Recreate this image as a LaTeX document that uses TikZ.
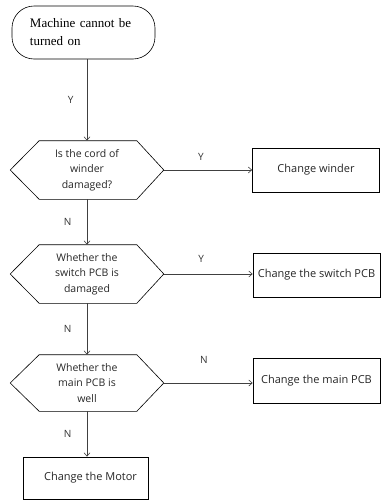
\documentclass[tikz,border=0pt]{standalone}
\usepackage{fontspec}
\setmainfont{Liberation Serif}
\setsansfont{Open Sans}
\usetikzlibrary{arrows.meta}
\begin{document}
\begin{tikzpicture}[x=1pt,y=-1pt,
    line width=0.6pt,
    flow/.style={draw=black!75,-{Straight Barb[length=3.5pt,width=6pt]}},
    lbl/.style={font=\sffamily\fontsize{10}{11}\selectfont,text=black!80},
    decision/.style={minimum width=153pt,inner sep=0pt,align=center,
        font=\sffamily\fontsize{10.5}{15.5}\selectfont,text=black!85},
    action/.style={draw,minimum width=127pt,inner sep=0pt,
        font=\sffamily\fontsize{11}{13}\selectfont,text=black!85}]
            \useasboundingbox (0,0) rectangle (382,501);

            \node[draw,rounded corners=22pt,minimum height=53pt,text width=107pt,
                inner xsep=18pt,align=left,font=\fontsize{13}{18}\selectfont]
                (start) at (83.5,32.5) {Machine cannot be\\turned on};

            \node[decision,minimum height=58pt] (cord) at (87,170) {Is the cord of\\winder\\damaged?};
            \node[decision,minimum height=58pt] (switch) at (87,274) {Whether the\\switch PCB is\\damaged};
            \node[decision,minimum height=56pt] (main) at (87,383) {Whether the\\main PCB is\\well};

            \foreach \d in {cord,switch,main} {
                \draw (\d.west) -- ([xshift=29pt]\d.north west) -- ([xshift=-27pt]\d.north east)
                    -- (\d.east) -- ([xshift=-27pt]\d.south east) -- ([xshift=29pt]\d.south west) -- cycle;
            }

            \node[action,minimum height=44pt] (winder) at (316,170) {Change winder};
            \node[action,minimum height=44pt] (swpcb) at (316.5,275) {Change the switch PCB};
            \node[action,minimum height=45pt] (mainpcb) at (316.5,380.5) {Change the main PCB};
            \node[action,minimum width=125pt,minimum height=42pt] (motor) at (85.5,478) {\hspace{10pt}Change the Motor};

            \draw[flow] (cord.north |- start.south) -- (cord.north) node[midway,left=10pt,lbl] {Y};
            \draw[flow] (cord.south) -- (switch.north) node[midway,left=12pt,lbl] {N};
            \draw[flow] (switch.south) -- (main.north) node[midway,left=12pt,lbl] {N};
            \draw[flow] (main.south) -- (motor.north -| main.south) node[midway,left=12pt,lbl] {N};

            \draw[flow] (cord.east) -- (cord.east -| winder.west) node[pos=0.42,above=6pt,lbl] {Y};
            \draw[flow] (switch.east) -- (switch.east -| swpcb.west) node[pos=0.42,above=8pt,lbl] {Y};
            \draw[flow] (main.east) -- (main.east -| mainpcb.west) node[pos=0.45,above=16pt,lbl] {N};
        \end{tikzpicture}
\end{document}
